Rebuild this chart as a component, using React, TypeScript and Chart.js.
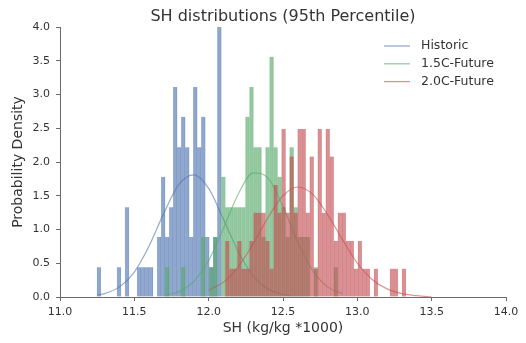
import React, { useEffect, useRef } from 'react';
import { Chart, registerables } from 'chart.js';

Chart.register(...registerables);

// ---- data ----
const titleText = 'SH distributions (95th Percentile)';
const xAxisLabel = 'SH (kg/kg *1000)';
const yAxisLabel = 'Probability Density';
const seriesLabels = ['Historic', '1.5C-Future', '2.0C-Future'];

// histogram bins: centre of bin k = BIN_START + k * BIN_WIDTH
const BIN_START = 11.262;
const BIN_WIDTH = 0.027;

const historicFirstBin = 0;
const historicDensity = [
  0.44, 0, 0, 0, 0, 0.44, 0, 1.33, 0, 0, 0.44, 0.44, 0.44, 0.44, 0, 0.89,
  1.78, 0.89, 1.33, 3.11, 2.22, 2.67, 2.22, 0.89, 3.11, 2.22, 2.67, 0.89,
  0.44, 0.89, 4.0,
];

const future15FirstBin = 17;
const future15Density = [
  0.44, 0, 0, 0, 0.44, 0, 0, 0, 0, 0.89, 0, 0.44, 0.89, 0, 1.78, 1.33, 1.33,
  1.33, 1.33, 1.33, 2.67, 3.11, 2.22, 2.22, 0.89, 2.22, 3.56, 2.22, 1.78,
  1.33, 0.89, 2.22, 1.33, 0.89, 0.89, 0.89, 0, 0.44, 0, 0, 0, 0, 0.44,
];

const future20FirstBin = 32;
const future20Density = [
  0.83, 0.42, 0.42, 0.83, 0.42, 0.42, 0.83, 1.25, 1.25, 1.25, 0.83, 0.42,
  1.66, 1.25, 2.49, 1.25, 2.08, 1.25, 2.49, 2.49, 1.25, 2.08, 0.42, 2.49,
  1.25, 2.49, 2.08, 0.83, 1.25, 1.25, 0.83, 0.83, 0.42, 0.83, 0.42, 0.42,
  0, 0.42, 0, 0, 0, 0.42, 0.42, 0, 0.42,
];

// fitted normal curves
const historicCurveX = [11.25, 11.3, 11.4, 11.5, 11.6, 11.7, 11.8, 11.9, 12.0, 12.1, 12.2, 12.3, 12.4, 12.5, 12.55];
const historicCurveY = [0.03, 0.05, 0.15, 0.37, 0.76, 1.25, 1.67, 1.81, 1.61, 1.15, 0.67, 0.31, 0.12, 0.04, 0.02];

const future15CurveX = [11.7, 11.8, 11.9, 12.0, 12.1, 12.2, 12.3, 12.4, 12.5, 12.6, 12.7, 12.8, 12.9];
const future15CurveY = [0.02, 0.08, 0.23, 0.54, 1.02, 1.53, 1.84, 1.76, 1.34, 0.81, 0.39, 0.15, 0.05];

const future20CurveX = [12.0, 12.1, 12.2, 12.3, 12.4, 12.5, 12.6, 12.7, 12.8, 12.9, 13.0, 13.1, 13.2, 13.3, 13.4, 13.5];
const future20CurveY = [0.1, 0.22, 0.45, 0.79, 1.18, 1.5, 1.63, 1.52, 1.22, 0.85, 0.5, 0.26, 0.12, 0.05, 0.02, 0.0];

const xMin = 11.0;
const xMax = 14.0;
const xStep = 0.5;
const yMin = 0.0;
const yMax = 4.0;
const yStep = 0.5;

// ---- styles ----
const FONT = '"DejaVu Sans", Verdana, sans-serif';
const TEXT = '#333333';
const AXIS = '#6a6a6a';
const barColors = ['rgba(76,114,176,0.62)', 'rgba(85,168,104,0.62)', 'rgba(196,78,82,0.62)'];
const barEdgeColors = ['rgba(76,114,176,0.3)', 'rgba(85,168,104,0.3)', 'rgba(196,78,82,0.3)'];
const lineColors = ['rgba(76,114,176,0.6)', 'rgba(85,168,104,0.6)', 'rgba(196,78,82,0.6)'];

function histPoints(first: number, dens: number[]) {
  const pts: { x: number; y: number }[] = [];
  dens.forEach((d, i) => {
    if (d > 0) pts.push({ x: BIN_START + (first + i) * BIN_WIDTH, y: d });
  });
  return pts;
}

function curvePoints(xs: number[], ys: number[]) {
  return xs.map((x, i) => ({ x, y: ys[i] }));
}

const overlayPlugin = {
  id: 'overlay',
  afterDraw(chart: any) {
    const { ctx, chartArea } = chart;
    ctx.save();
    ctx.fillStyle = TEXT;
    ctx.font = `16px ${FONT}`;
    ctx.textAlign = 'center';
    ctx.textBaseline = 'middle';
    ctx.fillText(titleText, (chartArea.left + chartArea.right) / 2, 17);

    ctx.font = `12.5px ${FONT}`;
    ctx.textAlign = 'left';
    seriesLabels.forEach((lab, i) => {
      const y = 46 + i * 17.8;
      ctx.strokeStyle = lineColors[i];
      ctx.lineWidth = 1.3;
      ctx.beginPath();
      ctx.moveTo(384, y);
      ctx.lineTo(410, y);
      ctx.stroke();
      ctx.fillStyle = TEXT;
      ctx.fillText(lab, 421, y);
    });
    ctx.restore();
  },
};

export default function App() {
  const ref = useRef<HTMLCanvasElement | null>(null);

  useEffect(() => {
    document.body.style.margin = '0';
    const canvas = ref.current;
    if (!canvas) return;

    const barBase = {
      type: 'bar' as const,
      borderWidth: { left: 0.5, right: 0.5, top: 0, bottom: 0 },
      borderSkipped: false,
      grouped: false,
      barPercentage: 1,
      categoryPercentage: 1,
    };
    const lineBase = { type: 'line' as const, pointRadius: 0, borderWidth: 1.2, fill: false, cubicInterpolationMode: 'monotone' as const };

    const chart = new Chart(canvas, {
      type: 'bar',
      data: {
        datasets: [
          { ...barBase, label: seriesLabels[0] + ' hist', data: histPoints(historicFirstBin, historicDensity), backgroundColor: barColors[0], borderColor: barEdgeColors[0], order: 6 },
          { ...lineBase, label: seriesLabels[0], data: curvePoints(historicCurveX, historicCurveY), borderColor: lineColors[0], order: 5 },
          { ...barBase, label: seriesLabels[1] + ' hist', data: histPoints(future15FirstBin, future15Density), backgroundColor: barColors[1], borderColor: barEdgeColors[1], order: 4 },
          { ...lineBase, label: seriesLabels[1], data: curvePoints(future15CurveX, future15CurveY), borderColor: lineColors[1], order: 3 },
          { ...barBase, label: seriesLabels[2] + ' hist', data: histPoints(future20FirstBin, future20Density), backgroundColor: barColors[2], borderColor: barEdgeColors[2], order: 2 },
          { ...lineBase, label: seriesLabels[2], data: curvePoints(future20CurveX, future20CurveY), borderColor: lineColors[2], order: 1 },
        ] as any,
      },
      options: {
        animation: false,
        responsive: false,
        devicePixelRatio: 1,
        layout: { padding: { left: 0, right: 20, top: 27, bottom: 0 } },
        plugins: { legend: { display: false }, title: { display: false }, tooltip: { enabled: false } },
        scales: {
          x: {
            type: 'linear',
            min: xMin,
            max: xMax,
            offset: false,
            ticks: {
              stepSize: xStep,
              autoSkip: false,
              maxRotation: 0,
              padding: 5,
              color: TEXT,
              font: { family: FONT, size: 11 },
              callback: (v: any) => Number(v).toFixed(1),
            },
            grid: { drawOnChartArea: false, drawTicks: true, tickLength: 4, color: AXIS, offset: false },
            border: { display: true, color: AXIS, width: 1 },
            title: { display: true, text: xAxisLabel, color: TEXT, font: { family: FONT, size: 14 }, padding: { top: 0, bottom: 6 } },
            afterFit: (s: any) => { s.height = 46; },
          },
          y: {
            type: 'linear',
            min: yMin,
            max: yMax,
            ticks: {
              stepSize: yStep,
              padding: 6,
              color: TEXT,
              font: { family: FONT, size: 11 },
              callback: (v: any) => Number(v).toFixed(1),
            },
            grid: { drawOnChartArea: false, drawTicks: true, tickLength: 4, color: AXIS },
            border: { display: true, color: AXIS, width: 1 },
            title: { display: true, text: yAxisLabel, color: TEXT, font: { family: FONT, size: 14 }, padding: { top: 10, bottom: 0 } },
            afterFit: (s: any) => { s.width = 60; },
          },
        },
      } as any,
      plugins: [overlayPlugin],
    });

    return () => chart.destroy();
  }, []);

  return (
    <div style={{ position: 'fixed', left: 0, top: 0, width: 526, height: 343, background: '#fff' }}>
      <canvas ref={ref} width={526} height={343} style={{ width: 526, height: 343, display: 'block' }} />
    </div>
  );
}
